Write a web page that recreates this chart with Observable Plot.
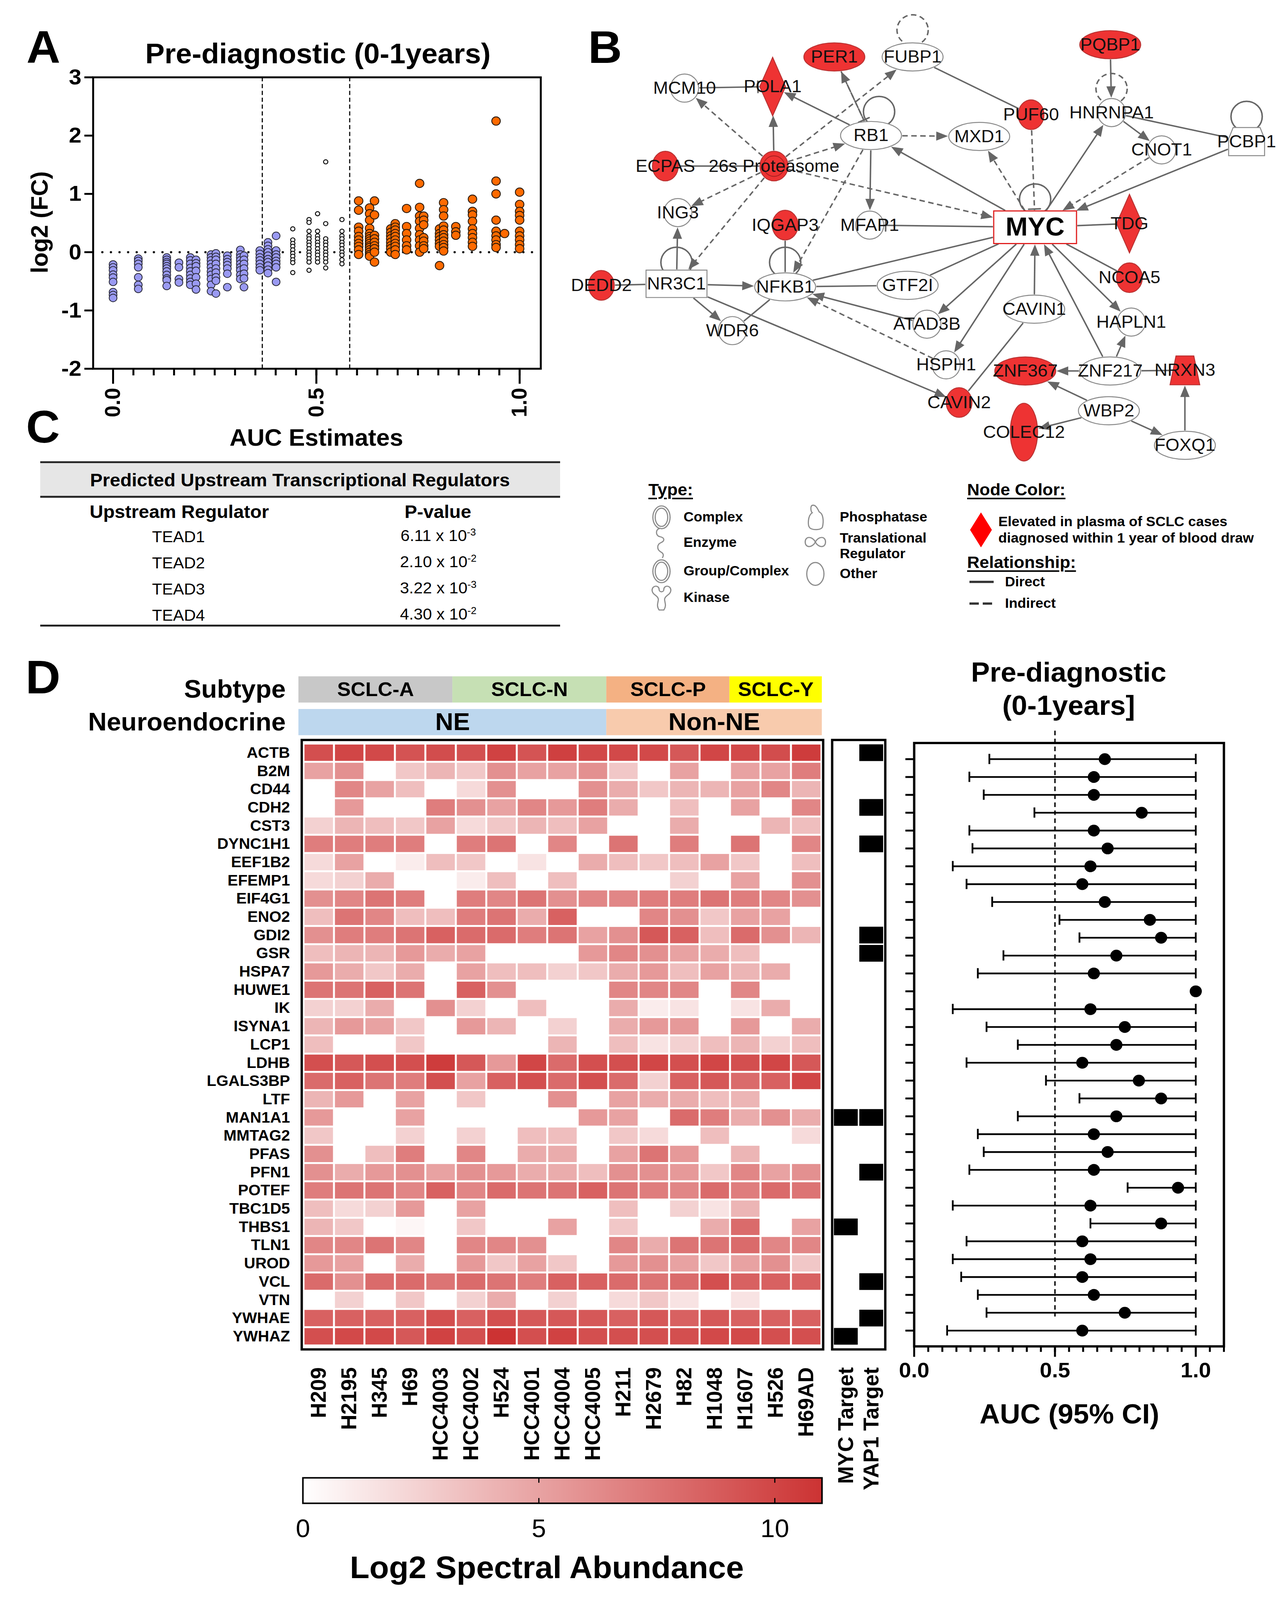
<!DOCTYPE html>
<html><head><meta charset="utf-8">
<script src="https://cdn.jsdelivr.net/npm/d3@7"></script>
<script src="https://cdn.jsdelivr.net/npm/@observablehq/plot@0.6"></script>
<style>
html,body{margin:0;padding:0;background:#fff;overflow:hidden;}
#fig{position:relative;width:3295px;height:4211px;overflow:hidden;background:#fff;font-family:"Liberation Sans",Arial,Helvetica,sans-serif;color:#000;}
.abs{position:absolute;white-space:nowrap;}
.ul{text-decoration:underline;text-decoration-thickness:4px;text-underline-offset:6px;}
</style></head>
<body><div id="fig"></div>
<script>
// ---------------- DATA ----------------
// Panel A: AUC estimate columns and log2 fold changes
const blueAUC = [0.000, 0.062, 0.132, 0.162, 0.190, 0.204, 0.241, 0.253, 0.281, 0.313, 0.322, 0.361, 0.381, 0.401];
const blueFC = [
  [-0.21,-0.26,-0.31,-0.385,-0.435,-0.51,-0.685,-0.735,-0.785],
  [-0.11,-0.15,-0.20,-0.26,-0.43,-0.56,-0.63],
  [-0.09,-0.13,-0.17,-0.20,-0.24,-0.28,-0.33,-0.39,-0.45,-0.48,-0.58],
  [-0.18,-0.26,-0.46,-0.52],
  [-0.09,-0.14,-0.20,-0.27,-0.33,-0.39,-0.45,-0.51,-0.56],
  [-0.13,-0.19,-0.24,-0.32,-0.43,-0.54,-0.64],
  [-0.04,-0.09,-0.14,-0.20,-0.26,-0.33,-0.39,-0.46,-0.56,-0.67],
  [-0.02,-0.08,-0.13,-0.20,-0.28,-0.35,-0.43,-0.49,-0.71],
  [-0.06,-0.12,-0.17,-0.22,-0.28,-0.37,-0.60],
  [0.04,-0.04,-0.09,-0.14,-0.20,-0.26,-0.31,-0.39,-0.46],
  [-0.06,-0.13,-0.20,-0.28,-0.37,-0.45,-0.60],
  [0.03,-0.03,-0.09,-0.14,-0.20,-0.26,-0.31],
  [0.17,0.11,0.05,0.00,-0.06,-0.12,-0.17,-0.23,-0.30,-0.36],
  [0.28,0.03,-0.04,-0.09,-0.15,-0.20,-0.26,-0.51]
];
const midAUC = [0.442, 0.482, 0.503, 0.523, 0.563];
const midFC = [
  [0.40,0.21,0.15,0.10,0.04,-0.02,-0.07,-0.13,-0.18,-0.35],
  [0.56,0.51,0.36,0.28,0.23,0.17,0.12,0.06,0.00,-0.05,-0.11,-0.17,-0.31],
  [0.66,0.36,0.28,0.23,0.17,0.12,0.06,0.00,-0.05,-0.11,-0.17],
  [1.55,0.49,0.23,0.17,0.12,0.06,0.00,-0.05,-0.11,-0.17,-0.27],
  [0.56,0.36,0.28,0.23,0.17,0.12,0.06,0.00,-0.05,-0.13,-0.20]
];
const upAUC = [0.604,0.631,0.643,0.683,0.694,0.722,0.754,0.764,0.803,0.813,0.843,0.884,0.942,0.963,1.000];
const upFC = [
  [0.88,0.72,0.43,0.36,0.27,0.21,0.15,0.10,0.04,-0.04],
  [0.76,0.66,0.55,0.41,0.32,0.27,0.23,0.19,0.15,0.11,0.08,0.04,0.00,-0.04,-0.07],
  [0.88,0.64,0.29,0.23,0.17,0.11,0.06,0.00,-0.17],
  [0.40,0.34,0.28,0.23,0.17,0.11,0.06,0.00],
  [0.49,0.43,0.38,0.32,0.27,0.21,0.15,0.10,0.04,-0.04],
  [0.75,0.44,0.32,0.21,0.11,0.04],
  [1.18,0.77,0.62,0.53,0.41,0.30,0.21,0.11,0.00],
  [0.62,0.55,0.47,0.25,0.19,0.11,0.06],
  [0.40,0.32,0.27,0.21,0.15,0.10,-0.23],
  [0.85,0.73,0.62,0.45,0.38,0.30,0.25,0.19,0.13,0.08,0.02],
  [0.44,0.35,0.29],
  [0.91,0.70,0.64,0.53,0.40,0.32,0.25,0.17,0.10],
  [2.25,1.22,1.00,0.55,0.36,0.28,0.21,0.13,0.08],
  [0.32],
  [1.03,0.82,0.70,0.63,0.55,0.36,0.28,0.21,0.13,0.06]
];
const aucCutoffs = [0.367, 0.582];
const aTicksY = [-2, -1, 0, 1, 2, 3];
const aTicksMajor = [0, 0.5, 1];

// Panel B: network (layout coordinates) and edges
const netNodes = [
  {id:"FUBP1",x:718,y:183,shape:"oval",red:false},
  {id:"PER1",x:543,y:183,shape:"oval",red:true},
  {id:"PQBP1",x:1160,y:143,shape:"oval",red:true},
  {id:"MCM10",x:208,y:285,shape:"circ",red:false},
  {id:"POLA1",x:405,y:280,shape:"diamond",red:true},
  {id:"PUF60",x:983,y:372,shape:"small",red:true},
  {id:"HNRNPA1",x:1163,y:365,shape:"circ",red:false},
  {id:"RB1",x:625,y:440,shape:"oval",red:false},
  {id:"MXD1",x:867,y:443,shape:"oval",red:false},
  {id:"CNOT1",x:1275,y:487,shape:"circ",red:false},
  {id:"PCBP1",x:1465,y:460,shape:"pent",red:false},
  {id:"ECPAS",x:165,y:540,shape:"small",red:true},
  {id:"26s Proteasome",x:408,y:540,shape:"complex",red:true},
  {id:"ING3",x:193,y:692,shape:"circ",red:false},
  {id:"IQGAP3",x:433,y:733,shape:"small",red:true},
  {id:"MFAP1",x:622,y:733,shape:"circ",red:false},
  {id:"MYC",x:992,y:740,shape:"myc",red:false},
  {id:"TDG",x:1203,y:728,shape:"diamond",red:true},
  {id:"DEDD2",x:22,y:930,shape:"small",red:true},
  {id:"NR3C1",x:190,y:925,shape:"rect",red:false},
  {id:"NFKB1",x:433,y:935,shape:"oval",red:false},
  {id:"GTF2I",x:707,y:930,shape:"oval",red:false},
  {id:"NCOA5",x:1203,y:905,shape:"small",red:true},
  {id:"CAVIN1",x:990,y:1008,shape:"oval",red:false},
  {id:"WDR6",x:315,y:1078,shape:"circ",red:false},
  {id:"ATAD3B",x:750,y:1057,shape:"circ",red:false},
  {id:"HAPLN1",x:1207,y:1050,shape:"circ",red:false},
  {id:"HSPH1",x:793,y:1190,shape:"circ",red:false},
  {id:"ZNF367",x:970,y:1210,shape:"oval",red:true},
  {id:"ZNF217",x:1160,y:1210,shape:"oval",red:false},
  {id:"NRXN3",x:1327,y:1208,shape:"trap",red:true},
  {id:"CAVIN2",x:822,y:1313,shape:"small",red:true},
  {id:"WBP2",x:1157,y:1340,shape:"oval",red:false},
  {id:"COLEC12",x:967,y:1410,shape:"tall",red:true},
  {id:"FOXQ1",x:1327,y:1453,shape:"oval",red:false}
];
// [source, target, relationship (d=direct, i=indirect), end (arrow|bar|none)]
const netEdges = [
  ["MCM10","POLA1","d","bar"],["26s Proteasome","MCM10","i","arrow"],["26s Proteasome","POLA1","d","arrow"],
  ["RB1","POLA1","d","arrow"],["26s Proteasome","FUBP1","i","arrow"],["26s Proteasome","RB1","i","arrow"],
  ["ECPAS","26s Proteasome","d","none"],["26s Proteasome","ING3","i","arrow"],["26s Proteasome","NR3C1","i","arrow"],
  ["26s Proteasome","MYC","i","arrow"],["RB1","PER1","i","arrow"],["PER1","RB1","i","bar"],["RB1","MXD1","i","arrow"],
  ["RB1","MFAP1","d","arrow"],["RB1","NFKB1","i","arrow"],["MYC","RB1","d","arrow"],
  ["FUBP1","PUF60","d","none"],["MYC","MXD1","i","arrow"],["PUF60","MYC","i","bar"],
  ["PQBP1","HNRNPA1","d","arrow"],["MYC","HNRNPA1","d","arrow"],["HNRNPA1","CNOT1","d","arrow"],
  ["HNRNPA1","PCBP1","d","none"],["CNOT1","MYC","i","arrow"],["PCBP1","MYC","d","arrow"],
  ["MYC","MFAP1","d","bar"],["MYC","TDG","d","none"],["MYC","NCOA5","d","none"],
  ["MYC","HAPLN1","d","arrow"],["CAVIN1","MYC","d","arrow"],["ZNF217","MYC","d","arrow"],
  ["MYC","NFKB1","d","none"],["MYC","GTF2I","d","none"],["MYC","ATAD3B","d","arrow"],
  ["MYC","HSPH1","d","arrow"],["CAVIN1","CAVIN2","d","none"],["NR3C1","ING3","d","arrow"],
  ["DEDD2","NR3C1","d","none"],["NR3C1","NFKB1","d","arrow"],["NR3C1","WDR6","d","arrow"],
  ["NR3C1","CAVIN2","d","arrow"],["IQGAP3","NFKB1","d","none"],["NFKB1","WDR6","d","none"],
  ["NFKB1","GTF2I","d","none"],["ATAD3B","NFKB1","d","arrow"],["HSPH1","NFKB1","i","arrow"],
  ["ZNF217","ZNF367","d","arrow"],["ZNF217","HAPLN1","d","arrow"],["NRXN3","ZNF217","d","none"],
  ["FOXQ1","NRXN3","d","arrow"],["WBP2","ZNF367","d","arrow"],["WBP2","COLEC12","d","arrow"],
  ["WBP2","FOXQ1","d","arrow"]
];
// self loops: [node, offset x, offset y (layout units), relationship]
const netLoops = [
  ["FUBP1",0,-88,"i"],["RB1",18,-78,"d"],["HNRNPA1",0,-78,"i"],["PCBP1",0,-82,"d"],
  ["MYC",0,-92,"d"],["NR3C1",0,-70,"d"],["NFKB1",0,-80,"d"]
];

// Panel C table
const regulators = ["TEAD1","TEAD2","TEAD3","TEAD4"];
const pMantissa = ["6.11","2.10","3.22","4.30"];
const pExponent = ["-3","-2","-3","-2"];

// Panel D
const cellLines = ["H209","H2195","H345","H69","HCC4003","HCC4002","H524","HCC4001","HCC4004","HCC4005","H211","H2679","H82","H1048","H1607","H526","H69AD"];
const subtypeOf = ["SCLC-A","SCLC-A","SCLC-A","SCLC-A","SCLC-A","SCLC-N","SCLC-N","SCLC-N","SCLC-N","SCLC-N","SCLC-P","SCLC-P","SCLC-P","SCLC-P","SCLC-Y","SCLC-Y","SCLC-Y"];
const neOf = ["NE","NE","NE","NE","NE","NE","NE","NE","NE","NE","Non-NE","Non-NE","Non-NE","Non-NE","Non-NE","Non-NE","Non-NE"];
const proteins = ["ACTB","B2M","CD44","CDH2","CST3","DYNC1H1","EEF1B2","EFEMP1","EIF4G1","ENO2","GDI2","GSR","HSPA7","HUWE1","IK","ISYNA1","LCP1","LDHB","LGALS3BP","LTF","MAN1A1","MMTAG2","PFAS","PFN1","POTEF","TBC1D5","THBS1","TLN1","UROD","VCL","VTN","YWHAE","YWHAZ"];
const abundance = [
  [9.5,10,9.8,9.3,9.6,9.4,10.2,9.2,10.3,9.8,9.8,9.8,9,10,9.8,9.6,10.5],
  [5,6,0,3,4,3,6,5,5,6,3,0,5,0,5,5,7],
  [0,6.5,5,3.5,0,2,6,0,0,6,4.5,3,4,4,5,6.5,4],
  [0,5.5,0,0,7,6,5,6.5,5.5,7,4.5,0,3.5,0,5,0,6.5],
  [2.5,4,3.5,3,5,2,3,4,3.5,5,0,0,4.5,0,0,4,3.5],
  [7,7,7,7,0,7,7.5,0,6.5,0,7.5,0,7,0,7.5,0,6.5],
  [2,5,0,1,3.5,3,0,1.5,0,4.5,3.5,3,3.5,5,3,0,3.5],
  [2,2.5,4.5,0,0,1,3.5,0,3.5,0,0,0,2.5,0,5,0,6],
  [6,6.5,7.5,7,0,7,6.5,7.5,6,6.5,6.5,7,7,7.5,7,6.5,6],
  [3.5,7.5,6.5,3.5,3.5,7,7.5,4.5,8.5,0,0,6.5,6,3,5,5,0],
  [6,7,7,7.5,8.5,8,8,7,7.5,5,6,9,8.5,3.5,8,6,4],
  [3.5,4,4,5.5,4.5,5,0,0,0,5.5,6.5,6,5,4.5,3.5,0,0],
  [5.5,4.5,3,4.5,0,5,3.5,3.5,2.5,3,4.5,5.5,3.5,5,4,4.5,0],
  [7.5,7.5,8.5,7.5,0,8.5,6,0,0,0,6.5,6.5,6.5,0,6.5,0,0],
  [2.5,2.5,4.5,0,6,2.5,0,3.5,0,0,4.5,1,1.5,0,1.5,4.5,0],
  [4,5.5,5,3,0,5.5,4,0,2.5,0,4.5,5.5,5.5,0,5.5,0,4.5],
  [3.5,0,0,3,0,0,0,0,4,0,3.5,1.5,2.5,3.5,4,2.5,3.5],
  [9.5,9,9.5,9.5,10.5,9,5.5,10,8,9.5,9.5,10,9.5,10,9.5,10,9],
  [8,8.5,7.5,7,9.5,5,8.5,9.5,8,9.5,8,2.5,8.5,9,8,8.5,10],
  [4,5.5,0,5,0,3,0,0,6,0,5,4.5,4.5,3.5,4,0,0],
  [5.5,0,0,5,0,0,0,0,0,5.5,5,0,8,7,4.5,6,4.5],
  [3,0,0,2.5,0,2.5,0,3.5,3.5,0,3,2,0,3.5,0,0,2],
  [6,0,3.5,7,0,6.5,0,4.5,4.5,0,5,7.5,5.5,0,4,0,0],
  [6,4.5,5.5,6,5,6,5.5,4.5,4.5,3.5,6,6,5.5,3,6.5,5,6],
  [7,7.5,7.5,6.5,8.5,6.5,8,7.5,7.5,8.5,7.5,7,6.5,8,7,8,7.5],
  [3.5,2,2.5,5.5,0,5,0,0,0,0,3.5,0,2.5,1.5,4,0,0],
  [4,3,0,0.5,0,3,0,0,5,0,3,0,0,4.5,8,0,5],
  [6.5,6.5,7.5,6.5,0,6.5,6.5,6,0,0,6.5,4.5,7.5,7.5,8,6.5,6.5],
  [5.5,5,0,4.5,0,5.5,3,5,3,0,5.5,6,5,3,5,6,3],
  [8,6,8,8,7.5,8,7.5,7,8.5,8.5,8,7.5,8,9.5,8.5,8.5,8.5],
  [0,2.5,0,3,0,2.5,4.5,0,2.5,0,2,3,1.5,0,1.5,0,0],
  [8.5,8.5,8.5,8.5,9.5,8.5,9.5,9,9,9,8.5,9,8.5,9,8.5,8.5,8.5],
  [9.5,9.8,9.8,9,10.2,9.5,11,9.5,10.2,9.5,9.5,9.5,9.5,9.8,9.8,9.5,9.5]
];
const targetCols = ["MYC Target","YAP1 Target"];
const mycTargets = ["MAN1A1","THBS1","YWHAZ"];
const yap1Targets = ["ACTB","CDH2","DYNC1H1","GDI2","GSR","MAN1A1","PFN1","VCL","YWHAE"];
const aucEst = [0.677,0.638,0.638,0.808,0.638,0.687,0.626,0.597,0.677,0.837,0.877,0.718,0.638,1.0,0.626,0.748,0.718,0.597,0.798,0.877,0.718,0.638,0.687,0.638,0.937,0.626,0.877,0.597,0.626,0.597,0.638,0.748,0.597];
const aucLo = [0.267,0.196,0.247,0.427,0.196,0.207,0.137,0.186,0.277,0.516,0.587,0.317,0.226,1.0,0.137,0.257,0.368,0.186,0.468,0.587,0.368,0.226,0.247,0.196,0.758,0.137,0.626,0.186,0.137,0.167,0.226,0.257,0.117];
const aucHi = [1,1,1,1,1,1,1,1,1,1,1,1,1,1,1,1,1,1,1,1,1,1,1,1,1,1,1,1,1,1,1,1,1];
const forestTicksMajor = [0, 0.5, 1];
const colorbarTicks = [0, 5, 10];

// ---------------- HELPERS ----------------
const fig = document.getElementById("fig");
const FONT = '"Liberation Sans", Arial, Helvetica, sans-serif';

function addText(html, x, y, size, o = {}) {
  const {bold = true, anchor = "middle", rotate = 0, family = FONT, cls = ""} = o;
  const d = document.createElement("div");
  d.className = "abs " + cls;
  d.innerHTML = html;
  const tx = anchor === "middle" ? "-50%" : anchor === "end" ? "-100%" : "0";
  d.style.left = x + "px"; d.style.top = y + "px";
  d.style.fontSize = size + "px"; d.style.fontWeight = bold ? "bold" : "normal";
  d.style.fontFamily = family; d.style.lineHeight = "1";
  d.style.transform = `translate(${tx},-50%)` + (rotate ? ` rotate(${rotate}deg)` : "");
  fig.appendChild(d);
  return d;
}
function put(node, x, y) {
  const d = document.createElement("div");
  d.className = "abs"; d.style.left = x + "px"; d.style.top = y + "px";
  d.appendChild(node); fig.appendChild(d); return d;
}
function box(x, y, w, h, bg) {
  const d = document.createElement("div");
  d.className = "abs";
  Object.assign(d.style, {left: x + "px", top: y + "px", width: w + "px", height: h + "px", background: bg});
  fig.appendChild(d);
}
const baseStyle = {fontFamily: FONT, overflow: "visible", background: "transparent", maxWidth: "none"};

// ---------------- PANEL A ----------------
const flat = (aucs, fcs) => aucs.flatMap((a, i) => fcs[i].map(v => ({auc: a, fc: v})));
const downPts = flat(blueAUC, blueFC), midPts = flat(midAUC, midFC), upPts = flat(upAUC, upFC);
const plotA = Plot.plot({
  width: 1400, height: 1200, marginLeft: 238, marginRight: 16, marginTop: 203, marginBottom: 230,
  x: {domain: [-0.049, 1.052]}, y: {domain: [-2, 3]}, style: baseStyle,
  marks: [
    Plot.ruleY([0], {stroke: "#111", strokeWidth: 6, strokeDasharray: "0,22", strokeLinecap: "round", insetLeft: 24, insetRight: 18}),
    Plot.ruleX(aucCutoffs, {stroke: "#111", strokeWidth: 3, strokeDasharray: "11,7"}),
    Plot.dot(midPts, {x: "auc", y: "fc", r: 5.5, fill: "white", stroke: "#111", strokeWidth: 2.5}),
    Plot.dot(downPts, {x: "auc", y: "fc", r: 10, fill: "#9a9af2", stroke: "#2a2a3a", strokeWidth: 2}),
    Plot.dot(upPts, {x: "auc", y: "fc", r: 11, fill: "#ff6a00", stroke: "#2a1a0a", strokeWidth: 2.2}),
    Plot.frame({strokeWidth: 5}),
    Plot.axisY({ticks: aTicksY, tickSize: 22, tickPadding: 8, strokeWidth: 5, tickFormat: d => (d < 0 ? "-" : "") + Math.abs(d), fontSize: 58, fontWeight: "bold", label: null}),
    Plot.axisX({ticks: d3.range(0, 1.0001, 0.05), tickSize: 18, strokeWidth: 5, tickFormat: () => "", label: null}),
    Plot.axisX({ticks: aTicksMajor, tickSize: 40, strokeWidth: 5, tickPadding: 10, tickRotate: -90, tickFormat: d3.format(".1f"), fontSize: 56, fontWeight: "bold", label: null})
  ]
});
put(plotA, 0, 0);
addText("A", 111, 124, 120);
addText("Pre-diagnostic (0-1years)", 814, 142, 74);
addText("log2 (FC)", 101, 585, 62, {rotate: -90});
addText("AUC Estimates", 810, 1152, 62);

// ---------------- PANEL B (network) ----------------
const NET_W = 1795, NET_H = 1262;
const fxN = NET_W / 1568, fyN = NET_H / 1568;
const shapes = {
  oval: {a: 78, b: 37, kind: "ellipse"}, circ: {a: 36, b: 37, kind: "ellipse"},
  small: {a: 33, b: 39, kind: "ellipse"}, tall: {a: 35, b: 76, kind: "ellipse"},
  complex: {a: 36, b: 39, kind: "ellipse"}, diamond: {a: 33, b: 77, kind: "diamond"},
  rect: {a: 78, b: 36, kind: "rect"}, myc: {a: 106, b: 43, kind: "rect"},
  trap: {a: 38, b: 38, kind: "trap"}, pent: {a: 46, b: 37, kind: "pent"}
};
function drawShape(ctx, kind, a, b) {
  const k = 0.5523;
  if (kind === "ellipse") {
    ctx.moveTo(a, 0);
    ctx.bezierCurveTo(a, k * b, k * a, b, 0, b); ctx.bezierCurveTo(-k * a, b, -a, k * b, -a, 0);
    ctx.bezierCurveTo(-a, -k * b, -k * a, -b, 0, -b); ctx.bezierCurveTo(k * a, -b, a, -k * b, a, 0);
    ctx.closePath();
  } else if (kind === "rect") {
    ctx.moveTo(-a, -b); ctx.lineTo(a, -b); ctx.lineTo(a, b); ctx.lineTo(-a, b); ctx.closePath();
  } else if (kind === "diamond") {
    ctx.moveTo(0, -b); ctx.lineTo(a, 0); ctx.lineTo(0, b); ctx.lineTo(-a, 0); ctx.closePath();
  } else if (kind === "trap") {
    ctx.moveTo(-0.6 * a, -b); ctx.lineTo(0.6 * a, -b); ctx.lineTo(a, b); ctx.lineTo(-a, b); ctx.closePath();
  } else if (kind === "pent") {
    ctx.moveTo(-0.75 * a, -b); ctx.lineTo(0.75 * a, -b); ctx.lineTo(a, -0.2 * b); ctx.lineTo(a, b); ctx.lineTo(-a, b); ctx.lineTo(-a, -0.2 * b); ctx.closePath();
  }
}
const symbolFor = (s) => ({draw(ctx) { const {a, b, kind} = shapes[s]; drawShape(ctx, kind, a, b); }});
function boundary(s, ux, uy) {
  const {a, b, kind} = shapes[s];
  const ax = Math.abs(ux) || 1e-9, ay = Math.abs(uy) || 1e-9;
  if (kind === "rect" || kind === "trap" || kind === "pent") return Math.min(a / ax, b / ay);
  if (kind === "diamond") return 1 / (ax / a + ay / b);
  return 1 / Math.sqrt((ux / a) ** 2 + (uy / b) ** 2);
}
const nodeById = new Map(netNodes.map(n => [n.id, n]));
const segs = netEdges.map(([s, t, rel, end]) => {
  const S = nodeById.get(s), T = nodeById.get(t);
  const sx = S.x * fxN, sy = S.y * fyN, tx = T.x * fxN, ty = T.y * fyN;
  const L = Math.hypot(tx - sx, ty - sy), ux = (tx - sx) / L, uy = (ty - sy) / L;
  const ds = boundary(S.shape, ux, uy) + 2, dt = boundary(T.shape, ux, uy) + 2;
  const ex = tx - ux * dt, ey = ty - uy * dt;
  const back = end === "arrow" ? 18 : 0;
  return {rel, end,
    x1: (sx + ux * ds) / fxN, y1: (sy + uy * ds) / fyN,
    x2: (ex - ux * back) / fxN, y2: (ey - uy * back) / fyN,
    tipx: ex / fxN, tipy: ey / fyN, rot: Math.atan2(ux, -uy) * 180 / Math.PI};
});
const loops = netLoops.map(([id, dx, dy, rel]) => ({x: nodeById.get(id).x + dx, y: nodeById.get(id).y + dy, rel}));
const EDGE = "#666666", RED = "#ee3333";
const arrowShape = {draw(ctx, l) { ctx.moveTo(0, 0); ctx.lineTo(-12, l); ctx.lineTo(12, l); ctx.closePath(); }};
const barShape = {draw(ctx) { ctx.moveTo(-15, 3); ctx.lineTo(15, 3); }};
const nodeMarks = [];
for (const s of Object.keys(shapes)) {
  for (const red of [false, true]) {
    const sub = netNodes.filter(n => n.shape === s && n.red === red);
    if (!sub.length) continue;
    nodeMarks.push(Plot.dot(sub, {x: "x", y: "y", r: 10, symbol: symbolFor(s),
      fill: red ? RED : "white", stroke: s === "myc" ? "#e02020" : red ? "#b33" : "#8a8a8a", strokeWidth: s === "myc" ? 3 : 2.5}));
  }
}
const proteasome = netNodes.filter(n => n.shape === "complex");
const netPlot = Plot.plot({
  width: NET_W, height: NET_H, margin: 0,
  x: {domain: [0, 1568], axis: null}, y: {domain: [0, 1568], reverse: true, axis: null},
  style: baseStyle,
  marks: [
    Plot.link(segs.filter(d => d.rel === "d"), {x1: "x1", y1: "y1", x2: "x2", y2: "y2", stroke: EDGE, strokeWidth: 3.8}),
    Plot.link(segs.filter(d => d.rel === "i"), {x1: "x1", y1: "y1", x2: "x2", y2: "y2", stroke: EDGE, strokeWidth: 3.8, strokeDasharray: "14,9"}),
    Plot.vector(segs.filter(d => d.end === "arrow"), {x: "tipx", y: "tipy", rotate: "rot", length: 30, anchor: "start", shape: arrowShape, fill: EDGE, stroke: "none"}),
    Plot.vector(segs.filter(d => d.end === "bar"), {x: "tipx", y: "tipy", rotate: "rot", length: 30, anchor: "start", shape: barShape, stroke: EDGE, strokeWidth: 4}),
    Plot.dot(loops.filter(d => d.rel === "d"), {x: "x", y: "y", r: 40, fill: "none", stroke: EDGE, strokeWidth: 3.8}),
    Plot.dot(loops.filter(d => d.rel === "i"), {x: "x", y: "y", r: 40, fill: "none", stroke: EDGE, strokeWidth: 3.8, strokeDasharray: "14,9"}),
    ...nodeMarks,
    Plot.dot(proteasome, {x: "x", y: "y", r: 27, fill: "none", stroke: "#a52020", strokeWidth: 2}),
    Plot.text(netNodes.filter(n => n.id !== "MYC"), {x: "x", y: "y", text: "id", fontSize: 46, fill: "#111"}),
    Plot.text(netNodes.filter(n => n.id === "MYC"), {x: "x", y: "y", text: "id", fontSize: 68, fontWeight: "bold", fill: "#000"})
  ]
});
put(netPlot, 1514, 2);
addText("B", 1549, 124, 120);

// ---------------- PANEL B legend ----------------
function iconPlot(sym, w, h, o = {}) {
  return Plot.plot({width: w, height: h, margin: 0, style: baseStyle,
    marks: [Plot.dot([0], {frameAnchor: "middle", r: 10, symbol: sym, fill: o.fill || "white", stroke: o.stroke || "#8c8c8c", strokeWidth: o.sw || 3})]});
}
const ringSym = {draw(ctx) { drawShape(ctx, "ellipse", 22, 30); drawShape(ctx, "ellipse", 16, 24); }};
const circSym = {draw(ctx) { drawShape(ctx, "ellipse", 22, 30); }};
const enzymeSym = {draw(ctx) {
  ctx.moveTo(-2, -38); ctx.bezierCurveTo(-16, -38, -16, -18, -4, -16); ctx.bezierCurveTo(10, -13, 8, -4, -2, 0);
  ctx.bezierCurveTo(-12, 5, -12, 18, -2, 24); ctx.bezierCurveTo(6, 28, 6, 34, 2, 40); }};
const kinaseSym = {draw(ctx) {
  ctx.moveTo(-24, -20); ctx.bezierCurveTo(-24, -34, -6, -34, -6, -22); ctx.bezierCurveTo(-6, -14, 6, -14, 6, -22);
  ctx.bezierCurveTo(6, -34, 24, -34, 24, -20); ctx.bezierCurveTo(24, -8, 8, -6, 8, 4); ctx.bezierCurveTo(8, 12, 14, 20, 6, 32);
  ctx.lineTo(-6, 32); ctx.bezierCurveTo(-14, 20, -8, 12, -8, 4); ctx.bezierCurveTo(-8, -6, -24, -8, -24, -20); ctx.closePath(); }};
const phosSym = {draw(ctx) {
  ctx.moveTo(-6, -32); ctx.bezierCurveTo(-14, -32, -12, -16, -8, -12); ctx.bezierCurveTo(-20, -4, -20, 22, -14, 28);
  ctx.bezierCurveTo(-6, 34, 14, 34, 18, 26); ctx.bezierCurveTo(22, 10, 20, -10, 10, -14); ctx.bezierCurveTo(6, -22, 2, -32, -6, -32); ctx.closePath(); }};
const transSym = {draw(ctx) {
  ctx.moveTo(0, 0); ctx.bezierCurveTo(-8, -16, -26, -16, -26, 0); ctx.bezierCurveTo(-26, 16, -8, 16, 0, 0);
  ctx.bezierCurveTo(8, -16, 26, -16, 26, 0); ctx.bezierCurveTo(26, 16, 8, 16, 0, 0); ctx.closePath(); }};
const diamondSym = {draw(ctx) { drawShape(ctx, "diamond", 28, 46); }};
const typeItems = [
  {label: "Complex", sym: ringSym, x: 1693, tx: 1750, y: 1361},
  {label: "Enzyme", sym: enzymeSym, x: 1693, tx: 1750, y: 1428},
  {label: "Group/Complex", sym: ringSym, x: 1693, tx: 1750, y: 1503},
  {label: "Kinase", sym: kinaseSym, x: 1693, tx: 1750, y: 1573},
  {label: "Phosphatase", sym: phosSym, x: 2087, tx: 2150, y: 1361},
  {label: "Translational<br>Regulator", sym: transSym, x: 2087, tx: 2150, y: 1426, ty: 1437},
  {label: "Other", sym: circSym, x: 2087, tx: 2150, y: 1510}
];
addText("Type:", 1660, 1289, 44, {anchor: "start", cls: "ul"});
addText("Node Color:", 2476, 1289, 44, {anchor: "start", cls: "ul"});
addText("Relationship:", 2476, 1480, 44, {anchor: "start", cls: "ul"});
for (const it of typeItems) {
  put(iconPlot(it.sym, 70, 90), it.x - 35, it.y - 45);
  const t = addText(it.label, it.tx, it.ty || it.y, 36, {anchor: "start"});
  t.style.lineHeight = "1.18";
}
put(iconPlot(diamondSym, 70, 100, {fill: "#ff0000", stroke: "none"}), 2511 - 35, 1394 - 50);
addText("Elevated in plasma of SCLC cases", 2556, 1373, 36, {anchor: "start"});
addText("diagnosed within 1 year of blood draw", 2556, 1416, 36, {anchor: "start"});
function linePlot(dash) {
  return Plot.plot({width: 62, height: 20, margin: 0, y: {domain: [0, 1], axis: null}, style: baseStyle,
    marks: [Plot.ruleY([0.5], {stroke: "#333", strokeWidth: 6, strokeDasharray: dash})]});
}
put(linePlot(null), 2482, 1521);
addText("Direct", 2573, 1531, 36, {anchor: "start"});
put(linePlot("24,10"), 2482, 1578);
addText("Indirect", 2573, 1588, 36, {anchor: "start"});

// ---------------- PANEL C (table) ----------------
addText("C", 110, 1123, 120);
box(103, 1214, 1331, 5, "#222");
box(103, 1219, 1331, 86, "#e6e6e6");
box(103, 1305, 1331, 5, "#222");
addText("Predicted Upstream Transcriptional Regulators", 768, 1264, 48);
addText("Upstream Regulator", 459, 1347, 48);
addText("P-value", 1121, 1347, 48);
const rowY = [1413, 1482, 1551, 1620];
regulators.forEach((r, i) => {
  addText(r, 457, rowY[i], 42, {bold: false});
  addText(`${pMantissa[i]} x 10<sup style="font-size:0.62em;vertical-align:0.55em">${pExponent[i]}</sup>`, 1122, rowY[i] - 4, 42, {bold: false});
});
box(103, 1644, 1331, 5, "#222");

// ---------------- PANEL D ----------------
addText("D", 110, 1782, 124);
function runs(labels, row) {
  const out = [];
  labels.forEach((l, i) => {
    if (out.length && out[out.length - 1].label === l) out[out.length - 1].end = i + 1;
    else out.push({label: l, start: i, end: i + 1, row});
  });
  return out;
}
const groupColor = {"SCLC-A": "#c8c8c8", "SCLC-N": "#c6e0b4", "SCLC-P": "#f4b183", "SCLC-Y": "#ffff00", "NE": "#bdd7ee", "Non-NE": "#f8cbad"};
const subRuns = runs(subtypeOf, "Subtype"), neRuns = runs(neOf, "Neuroendocrine");
const annPlot = Plot.plot({
  width: 2110, height: 190, marginLeft: 764, marginRight: 6, marginTop: 29, marginBottom: 4,
  x: {domain: [0, cellLines.length], axis: null},
  y: {type: "band", domain: ["Subtype", "Neuroendocrine"], paddingInner: 0.195, paddingOuter: 0},
  color: {type: "identity"}, style: baseStyle,
  marks: [
    Plot.barX([...subRuns, ...neRuns], {x1: "start", x2: "end", y: "row", fill: d => groupColor[d.label]}),
    Plot.text(subRuns, {x: d => (d.start + d.end) / 2, y: "row", text: "label", fontSize: 52, fontWeight: "bold"}),
    Plot.text(neRuns, {x: d => (d.start + d.end) / 2, y: "row", text: "label", fontSize: 64, fontWeight: "bold"}),
    Plot.axisY({tickSize: 0, tickPadding: 33, fontSize: 66, fontWeight: "bold", label: null})
  ]
});
put(annPlot, 0, 1750);

// heatmap
const heatData = proteins.flatMap((p, i) => cellLines.map((c, j) => ({protein: p, cell: c, v: abundance[i][j]})));
const heatColor = {type: "linear", domain: [0, 11], range: ["#ffffff", "#cc3333"], interpolate: "rgb"};
const heatPlot = Plot.plot({
  width: 2110, height: 1900, marginLeft: 775, marginRight: 6, marginTop: 50, marginBottom: 252,
  x: {type: "band", domain: cellLines, padding: 0}, y: {type: "band", domain: proteins, padding: 0},
  color: heatColor, style: baseStyle,
  marks: [
    Plot.cell(heatData, {x: "cell", y: "protein", fill: "v", inset: 2.5}),
    Plot.frame({strokeWidth: 6, inset: -3}),
    Plot.axisY({tickSize: 0, tickPadding: 33, fontSize: 40, fontWeight: "bold", label: null}),
    Plot.axisX({tickSize: 0, tickPadding: 50, tickRotate: -90, fontSize: 56, fontWeight: "bold", label: null})
  ]
});
put(heatPlot, 0, 1900);

// target strip
const targetData = proteins.flatMap(p => [
  {p, t: targetCols[0], on: mycTargets.includes(p)},
  {p, t: targetCols[1], on: yap1Targets.includes(p)}
]);
const stripPlot = Plot.plot({
  width: 200, height: 1900, marginLeft: 33, marginRight: 37, marginTop: 50, marginBottom: 252,
  x: {type: "band", domain: targetCols, padding: 0}, y: {type: "band", domain: proteins, padding: 0},
  style: baseStyle,
  marks: [
    Plot.cell(targetData.filter(d => d.on), {x: "t", y: "p", fill: "black", inset: 2}),
    Plot.frame({strokeWidth: 6, inset: -3}),
    Plot.axisY({ticks: [], label: null}),
    Plot.axisX({tickSize: 0, tickPadding: 50, tickRotate: -90, fontSize: 56, fontWeight: "bold", label: null})
  ]
});
put(stripPlot, 2100, 1900);

// forest plot
const forest = proteins.map((p, i) => ({p, auc: aucEst[i], lo: aucLo[i], hi: aucHi[i]}));
const withCI = forest.filter(d => d.lo < d.hi);
const forestPlot = Plot.plot({
  width: 1000, height: 2100, marginLeft: 140, marginRight: 67, marginTop: 255, marginBottom: 257,
  x: {domain: [0, 1.1]}, y: {type: "band", domain: proteins, paddingInner: 0, paddingOuter: 0.3},
  style: baseStyle,
  marks: [
    Plot.ruleX([0.5], {strokeDasharray: "12,9", strokeWidth: 3.5, insetTop: -32, insetBottom: 78}),
    Plot.ruleY(withCI, {y: "p", x1: "lo", x2: "hi", strokeWidth: 4.5}),
    Plot.tickX(withCI, {x: "lo", y: "p", strokeWidth: 4.5, insetTop: 10, insetBottom: 10}),
    Plot.tickX(withCI, {x: "hi", y: "p", strokeWidth: 4.5, insetTop: 10, insetBottom: 10}),
    Plot.dot(forest, {x: "auc", y: "p", r: 15.5, fill: "black"}),
    Plot.frame({strokeWidth: 6}),
    Plot.axisY({tickSize: 22, tickFormat: () => "", strokeWidth: 5, label: null}),
    Plot.axisX({ticks: d3.range(0, 1.1001, 0.05), tickSize: 15, strokeWidth: 5, tickFormat: () => "", label: null}),
    Plot.axisX({ticks: forestTicksMajor, tickSize: 28, strokeWidth: 5, tickPadding: 14, tickFormat: d3.format(".1f"), fontSize: 56, fontWeight: "bold", label: null})
  ]
});
put(forestPlot, 2200, 1700);
addText("Pre-diagnostic", 2736, 1769, 72);
addText("(0-1years]", 2736, 1856, 72);
addText("AUC (95% CI)", 2738, 3721, 72);

// colorbar
const cbPlot = Plot.plot({
  width: 1500, height: 350, marginLeft: 75, marginRight: 96, marginTop: 39, marginBottom: 244,
  x: {domain: [0, 11]}, y: {domain: [0, 1], axis: null}, color: heatColor, style: baseStyle,
  marks: [
    Plot.raster({fill: (x, y) => x, x1: 0, x2: 11, y1: 0, y2: 1, width: 600, height: 2, imageRendering: "auto"}),
    Plot.ruleX([5, 10], {y1: 0.8, y2: 1, strokeWidth: 3}),
    Plot.ruleX([5, 10], {y1: 0, y2: 0.2, strokeWidth: 3}),
    Plot.frame({strokeWidth: 4}),
    Plot.axisX({ticks: colorbarTicks, tickSize: 0, tickPadding: 42, fontSize: 66, label: null})
  ]
});
put(cbPlot, 700, 3850);
addText("Log2 Spectral Abundance", 1400, 4125, 82);

// fit the full figure into the visible viewport if the window's viewport is shorter than the figure
const vh = window.innerHeight || 4211;
if (vh > 0 && vh < 4205) {
  fig.style.transformOrigin = "0 0";
  fig.style.transform = `scale(1, ${vh / 4211})`;
}
</script>
</body></html>
